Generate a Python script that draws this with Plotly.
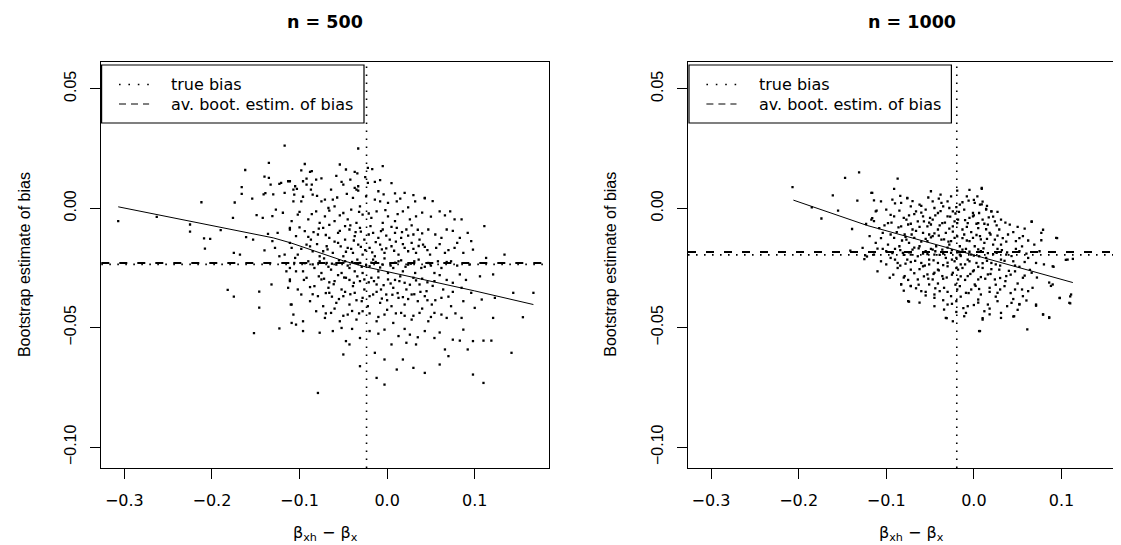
import plotly.graph_objects as go

W, H = 1121, 545

# ---------------- data ----------------
titles = ["n = 500", "n = 1000"]
xticks = [-0.3, -0.2, -0.1, 0.0, 0.1]
yticks = [-0.10, -0.05, 0.00, 0.05]
legend_labels = ["true bias", "av. boot. estim. of bias"]

true_bias = [-0.0235, -0.0195]       # dotted lines (vertical and horizontal)
boot_bias = [-0.0229, -0.0183]       # dashed horizontal line

# smooth fit lines
fit_left_x = [-0.307, -0.2, -0.13, -0.11, -0.09, -0.07, -0.05, -0.025, 0.04, 0.1, 0.167]
fit_left_y = [0.0006, -0.0074, -0.0124, -0.0145, -0.0170, -0.0196, -0.0220, -0.0245, -0.0296, -0.0346, -0.0403]
fit_right_x = [-0.206, -0.121, -0.05, 0.0, 0.05, 0.113]
fit_right_y = [0.0034, -0.0073, -0.0145, -0.0196, -0.0247, -0.0311]

# n = 500 : left tail / top of the cloud
left_outer = [
    (-0.307, -0.0054), (-0.263, -0.0036), (-0.225, -0.0068), (-0.225, -0.0098), (-0.212, 0.0025),
    (-0.209, -0.0126), (-0.202, -0.0128), (-0.208, -0.0169), (-0.190, -0.0092), (-0.176, -0.0040),
    (-0.174, 0.0024), (-0.175, -0.0187), (-0.168, -0.0194), (-0.182, -0.0342), (-0.175, -0.0370),
    (-0.166, 0.0060), (-0.166, 0.0088), (-0.162, 0.0160), (-0.161, -0.0121), (-0.153, -0.0131),
    (-0.152, -0.0523), (-0.154, 0.0040), (-0.149, -0.0029), (-0.142, -0.0040), (-0.146, -0.0349),
    (-0.146, -0.0416), (-0.139, 0.0063), (-0.140, 0.0132), (-0.135, 0.0127), (-0.135, 0.0190),
    (-0.133, 0.0099), (-0.140, -0.0176), (-0.132, -0.0319), (-0.123, -0.0503), (-0.127, -0.0006),
    (-0.121, 0.0106), (-0.113, 0.0113), (-0.109, -0.0480), (-0.104, -0.0487),
    (-0.136, -0.0107), (-0.131, -0.0138), (-0.125, -0.0103), (-0.128, -0.0166), (-0.123, -0.0201),
    (-0.117, -0.0194), (-0.111, -0.0145), (-0.105, -0.0208), (-0.104, -0.0264), (-0.111, -0.0298),
    (-0.113, -0.0333), (-0.110, -0.0403), (-0.115, -0.0264), (-0.131, -0.0033), (-0.119, -0.0019),
    (-0.117, 0.0064), (-0.107, 0.0029), (-0.111, -0.0082),
    (-0.117, 0.0262), (-0.033, 0.0250), (-0.123, 0.0102), (-0.141, 0.0058), (-0.130, 0.0058),
    (-0.105, 0.0092), (-0.103, 0.0081), (-0.092, 0.0124), (-0.086, 0.0099), (-0.086, 0.0155),
    (-0.037, 0.0085), (-0.033, 0.0074), (-0.022, 0.0169),
]

# n = 500 : main cloud
left_core = [
    (-0.094, 0.0185), (-0.098, 0.0158), (-0.088, 0.0152), (-0.054, 0.0183), (-0.047, 0.0162),
    (-0.037, 0.0152), (-0.034, 0.0146), (-0.017, 0.0164), (-0.005, 0.0176),
    (-0.111, 0.0113), (-0.096, 0.0113), (-0.092, 0.0099), (-0.081, 0.0120), (-0.107, 0.0078),
    (-0.087, 0.0078), (-0.064, 0.0078), (-0.052, 0.0110), (-0.050, 0.0099), (-0.033, 0.0092),
    (-0.035, 0.0078), (-0.022, 0.0106), (-0.014, 0.0110), (-0.010, 0.0071),
    (-0.106, 0.0057), (-0.098, 0.0029), (-0.085, 0.0057), (-0.075, 0.0029), (-0.071, 0.0036),
    (-0.062, 0.0036), (-0.067, 0.0001), (-0.060, 0.0008), (-0.039, 0.0043), (-0.031, 0.0008),
    (-0.014, 0.0036), (-0.008, 0.0029), (0.001, 0.0022), (0.011, 0.0029), (0.020, 0.0064),
    (0.032, 0.0029), (0.043, 0.0043), (0.024, 0.0004), (0.009, 0.0062), (0.043, 0.0041),
    (-0.109, -0.0054), (-0.102, -0.0027), (-0.090, -0.0047), (-0.081, -0.0013), (-0.077, -0.0061),
    (-0.071, -0.0034), (-0.060, -0.0054), (-0.050, -0.0020), (-0.045, -0.0047), (-0.041, -0.0006),
    (-0.035, -0.0061), (-0.028, -0.0027), (-0.018, -0.0040), (-0.012, -0.0013), (-0.005, -0.0061),
    (0.001, -0.0034), (0.009, -0.0054), (0.018, -0.0013), (0.026, -0.0047), (0.033, -0.0034),
    (0.060, -0.0013), (0.072, -0.0013), (0.077, -0.0047), (0.085, -0.0047), (0.111, -0.0075),
    (-0.111, -0.0089), (-0.104, -0.0117), (-0.094, -0.0096), (-0.087, -0.0131), (-0.079, -0.0110),
    (-0.073, -0.0082), (-0.066, -0.0124), (-0.056, -0.0103), (-0.048, -0.0131), (-0.043, -0.0089),
    (-0.037, -0.0117), (-0.031, -0.0082), (-0.026, -0.0131), (-0.016, -0.0103), (-0.010, -0.0124),
    (-0.005, -0.0089), (0.003, -0.0131), (0.009, -0.0103), (0.016, -0.0124), (0.022, -0.0089),
    (0.030, -0.0110), (0.037, -0.0131), (0.047, -0.0089), (0.062, -0.0124), (0.068, -0.0089),
    (0.083, -0.0124), (0.092, -0.0103), (0.096, -0.0138),
    (-0.109, -0.0166), (-0.102, -0.0194), (-0.092, -0.0152), (-0.085, -0.0180), (-0.077, -0.0201),
    (-0.069, -0.0159), (-0.062, -0.0187), (-0.056, -0.0145), (-0.050, -0.0201), (-0.045, -0.0166),
    (-0.039, -0.0187), (-0.033, -0.0152), (-0.028, -0.0194), (-0.020, -0.0166), (-0.014, -0.0201),
    (-0.008, -0.0152), (-0.003, -0.0187), (0.005, -0.0159), (0.013, -0.0194), (0.020, -0.0166),
    (0.028, -0.0145), (0.033, -0.0187), (0.041, -0.0152), (0.049, -0.0194), (0.056, -0.0166),
    (0.066, -0.0187), (0.077, -0.0166), (0.087, -0.0187), (0.098, -0.0173), (0.113, -0.0208),
    (0.134, -0.0194),
    (-0.111, -0.0250), (-0.106, -0.0229), (-0.096, -0.0264), (-0.090, -0.0222), (-0.083, -0.0250),
    (-0.075, -0.0271), (-0.069, -0.0229), (-0.064, -0.0257), (-0.058, -0.0236), (-0.052, -0.0271),
    (-0.048, -0.0222), (-0.043, -0.0250), (-0.037, -0.0264), (-0.031, -0.0229), (-0.028, -0.0271),
    (-0.020, -0.0243), (-0.016, -0.0215), (-0.010, -0.0264), (-0.005, -0.0236), (0.001, -0.0271),
    (0.007, -0.0250), (0.013, -0.0222), (0.018, -0.0264), (0.024, -0.0236), (0.032, -0.0271),
    (0.039, -0.0250), (0.047, -0.0229), (0.054, -0.0271), (0.062, -0.0250), (0.073, -0.0222),
    (0.083, -0.0277), (0.094, -0.0236), (0.106, -0.0285), (0.121, -0.0277), (0.167, -0.0354),
    (0.144, -0.0354),
    (-0.111, -0.0305), (-0.102, -0.0340), (-0.092, -0.0291), (-0.083, -0.0326), (-0.075, -0.0298),
    (-0.067, -0.0333), (-0.060, -0.0305), (-0.052, -0.0340), (-0.047, -0.0291), (-0.039, -0.0326),
    (-0.031, -0.0305), (-0.026, -0.0340), (-0.018, -0.0291), (-0.012, -0.0319), (-0.007, -0.0340),
    (0.001, -0.0298), (0.007, -0.0333), (0.014, -0.0305), (0.022, -0.0340), (0.030, -0.0291),
    (0.037, -0.0319), (0.045, -0.0347), (0.054, -0.0305), (0.064, -0.0340), (0.075, -0.0312),
    (0.085, -0.0333), (0.096, -0.0354), (0.108, -0.0382), (0.123, -0.0375),
    (-0.109, -0.0403), (-0.098, -0.0361), (-0.088, -0.0389), (-0.079, -0.0368), (-0.073, -0.0410),
    (-0.066, -0.0354), (-0.058, -0.0396), (-0.050, -0.0368), (-0.043, -0.0403), (-0.037, -0.0354),
    (-0.029, -0.0389), (-0.022, -0.0410), (-0.016, -0.0361), (-0.008, -0.0396), (-0.001, -0.0361),
    (0.005, -0.0410), (0.013, -0.0375), (0.020, -0.0403), (0.028, -0.0361), (0.035, -0.0389),
    (0.043, -0.0368), (0.051, -0.0403), (0.062, -0.0375), (0.073, -0.0410), (0.087, -0.0389),
    (0.100, -0.0417),
    (-0.107, -0.0445), (-0.096, -0.0473), (-0.081, -0.0431), (-0.071, -0.0459), (-0.064, -0.0438),
    (-0.054, -0.0473), (-0.045, -0.0445), (-0.035, -0.0466), (-0.028, -0.0431), (-0.012, -0.0473),
    (-0.003, -0.0445), (0.007, -0.0480), (0.016, -0.0438), (0.028, -0.0466), (0.037, -0.0438),
    (0.047, -0.0473), (0.054, -0.0438), (0.068, -0.0459), (0.085, -0.0459), (0.121, -0.0459),
    (0.155, -0.0456),
    (-0.096, -0.0514), (-0.077, -0.0521), (-0.062, -0.0514), (-0.052, -0.0501), (-0.031, -0.0543),
    (-0.020, -0.0514), (-0.003, -0.0508), (0.013, -0.0535), (0.026, -0.0529), (0.043, -0.0514),
    (0.054, -0.0543), (0.087, -0.0508), (0.075, -0.0550), (0.083, -0.0554),
    (-0.047, -0.0556), (-0.043, -0.0570), (-0.014, -0.0605), (0.005, -0.0570), (0.022, -0.0563),
    (0.033, -0.0570), (0.066, -0.0591), (0.070, -0.0619), (0.092, -0.0591), (0.098, -0.0556),
    (0.110, -0.0554), (0.119, -0.0554), (-0.050, -0.0612), (0.142, -0.0605),
    (-0.031, -0.0661), (-0.003, -0.0633), (0.018, -0.0633), (0.011, -0.0675), (0.030, -0.0668),
    (0.043, -0.0689), (0.060, -0.0654), (0.098, -0.0696), (0.110, -0.0731), (-0.012, -0.0710),
    (-0.003, -0.0738), (-0.079, -0.0773),
]

# n = 500 : extra points in the densest part of the cloud
left_dense = [
    (-0.078, -0.0085), (-0.066, -0.0070), (-0.054, -0.0095), (-0.042, -0.0072), (-0.030, -0.0098),
    (-0.019, -0.0075), (-0.007, -0.0096), (0.005, -0.0078), (0.017, -0.0100), (0.028, -0.0072),
    (0.040, -0.0105),
    (-0.080, -0.0150), (-0.068, -0.0172), (-0.060, -0.0140), (-0.047, -0.0182), (-0.038, -0.0135),
    (-0.025, -0.0175), (-0.013, -0.0142), (-0.001, -0.0168), (0.010, -0.0140), (0.024, -0.0180),
    (0.036, -0.0158), (0.046, -0.0175),
    (-0.072, -0.0210), (-0.063, -0.0232), (-0.055, -0.0218), (-0.045, -0.0240), (-0.034, -0.0215),
    (-0.024, -0.0238), (-0.013, -0.0225), (-0.003, -0.0210), (0.004, -0.0240), (0.016, -0.0218),
    (0.027, -0.0232), (0.036, -0.0215), (0.050, -0.0240),
    (-0.078, -0.0285), (-0.066, -0.0310), (-0.056, -0.0280), (-0.043, -0.0300), (-0.034, -0.0285),
    (-0.021, -0.0310), (-0.010, -0.0290), (0.004, -0.0315), (0.015, -0.0285), (0.026, -0.0320),
    (0.040, -0.0295), (0.052, -0.0325),
    (-0.070, -0.0355), (-0.055, -0.0380), (-0.042, -0.0360), (-0.028, -0.0375), (-0.012, -0.0350),
    (0.000, -0.0385), (0.012, -0.0355), (0.024, -0.0380), (0.038, -0.0350), (0.055, -0.0385),
    (-0.060, -0.0420), (-0.040, -0.0430), (-0.020, -0.0440), (0.000, -0.0425), (0.020, -0.0450),
    (0.040, -0.0420), (0.062, -0.0445),
    (-0.090, -0.0120), (-0.094, -0.0230), (-0.088, -0.0330), (0.060, -0.0280), (0.068, -0.0225),
    (0.075, -0.0350), (0.080, -0.0145),
]

left_dense2 = [
    (-0.075, 0.0125), (-0.058, 0.0135), (-0.042, 0.0120), (-0.025, 0.0130), (-0.008, 0.0118),
    (0.005, 0.0105),
    (-0.096, 0.0048), (-0.080, 0.0052), (-0.057, 0.0045), (-0.046, 0.0060), (-0.024, 0.0050),
    (-0.004, 0.0058), (0.015, 0.0040), (0.030, 0.0055), (0.052, 0.0030),
    (-0.100, -0.0015), (-0.086, -0.0025), (-0.066, -0.0010), (-0.054, -0.0030), (-0.032, -0.0015),
    (-0.021, -0.0022), (-0.002, -0.0008), (0.012, -0.0025), (0.040, -0.0018), (0.050, -0.0035),
    (0.066, -0.0030),
    (-0.100, -0.0080), (-0.084, -0.0100), (-0.070, -0.0112), (-0.048, -0.0075), (-0.036, -0.0100),
    (-0.021, -0.0110), (-0.001, -0.0115), (0.011, -0.0082), (0.024, -0.0115), (0.035, -0.0090),
    (0.055, -0.0110), (0.075, -0.0095),
    (-0.098, -0.0170), (-0.088, -0.0160), (-0.073, -0.0180), (-0.053, -0.0160), (-0.041, -0.0170),
    (-0.030, -0.0162), (-0.017, -0.0185), (-0.006, -0.0172), (0.008, -0.0178), (0.018, -0.0150),
    (0.030, -0.0170), (0.043, -0.0162), (0.060, -0.0150), (0.070, -0.0175),
    (-0.085, -0.0235), (-0.077, -0.0222), (-0.067, -0.0245), (-0.050, -0.0228), (-0.040, -0.0225),
    (-0.029, -0.0245), (-0.018, -0.0228), (-0.008, -0.0248), (0.009, -0.0228), (0.021, -0.0245),
    (0.031, -0.0222), (0.043, -0.0245), (0.058, -0.0222), (0.080, -0.0240),
    (-0.095, -0.0300), (-0.072, -0.0295), (-0.061, -0.0318), (-0.049, -0.0290), (-0.038, -0.0312),
    (-0.026, -0.0298), (-0.015, -0.0305), (-0.004, -0.0322), (0.009, -0.0300), (0.020, -0.0312),
    (0.033, -0.0302), (0.046, -0.0310), (0.068, -0.0300), (0.090, -0.0300),
    (-0.085, -0.0360), (-0.063, -0.0370), (-0.048, -0.0350), (-0.035, -0.0385), (-0.020, -0.0368),
    (-0.006, -0.0378), (0.006, -0.0362), (0.018, -0.0372), (0.031, -0.0360), (0.046, -0.0385),
    (0.070, -0.0370),
    (-0.070, -0.0440), (-0.050, -0.0450), (-0.032, -0.0440), (-0.010, -0.0455), (0.010, -0.0440),
    (0.030, -0.0450), (0.050, -0.0455), (0.078, -0.0440),
    (-0.040, -0.0505), (-0.010, -0.0525), (0.020, -0.0505), (0.035, -0.0540), (0.060, -0.0520),
]

# n = 1000 : tails
right_outer = [
    (-0.207, 0.0088), (-0.185, 0.0004), (-0.174, -0.0043), (-0.161, 0.0054), (-0.155, -0.0010),
    (-0.147, 0.0127), (-0.139, -0.0087), (-0.133, 0.0032), (-0.131, 0.0150), (-0.116, 0.0064),
    (-0.114, 0.0033), (-0.116, -0.0041), (-0.114, -0.0054), (-0.123, -0.0066), (-0.141, -0.0177),
    (-0.127, -0.0166), (-0.124, -0.0197), (-0.122, -0.0202), (-0.110, -0.0169), (-0.111, -0.0010),
    (-0.125, -0.0213), (-0.087, 0.0124), (-0.091, 0.0081), (-0.084, 0.0052), (-0.076, 0.0041),
    (-0.074, -0.0391), (-0.083, -0.0318), (-0.072, -0.0325), (-0.031, -0.0460), (-0.020, -0.0434),
    (0.006, -0.0514), (0.009, 0.0081), (-0.005, 0.0077), (0.009, 0.0016), (0.014, -0.0003),
    (0.020, -0.0013), (0.010, -0.0460), (0.018, -0.0444), (0.045, -0.0453), (0.052, -0.0401),
    (0.061, -0.0507), (0.066, -0.0057), (0.071, -0.0408), (0.079, -0.0090), (0.079, -0.0444),
    (0.086, -0.0311), (0.088, -0.0325), (0.086, -0.0456), (0.077, -0.0134), (0.091, -0.0245),
    (0.095, -0.0125), (0.098, -0.0376), (0.105, -0.0216), (0.110, -0.0369), (0.110, -0.0398),
    (0.113, -0.0212),
    (-0.049, 0.0071), (-0.038, 0.0057), (-0.019, 0.0074), (0.009, 0.0085), (-0.008, 0.0050),
    (-0.006, 0.0032), (-0.117, 0.0064),
]

# n = 1000 : main cloud
right_core = [
    (-0.112, -0.0013), (-0.100, -0.0006), (-0.093, 0.0036), (-0.083, 0.0022), (-0.076, 0.0043),
    (-0.066, -0.0013), (-0.062, 0.0015), (-0.055, -0.0006), (-0.047, 0.0029), (-0.041, -0.0020),
    (-0.035, 0.0008), (-0.030, 0.0029), (-0.024, -0.0013), (-0.016, 0.0015), (-0.011, -0.0006),
    (-0.001, -0.0020), (0.007, 0.0015), (0.014, -0.0006), (0.020, -0.0013), (-0.106, 0.0029),
    (-0.072, 0.0008), (-0.045, 0.0001), (-0.028, 0.0001), (0.001, 0.0022),
    (-0.117, -0.0048), (-0.108, -0.0083), (-0.098, -0.0062), (-0.091, -0.0034), (-0.083, -0.0076),
    (-0.077, -0.0048), (-0.070, -0.0089), (-0.064, -0.0055), (-0.058, -0.0034), (-0.053, -0.0076),
    (-0.047, -0.0048), (-0.041, -0.0089), (-0.036, -0.0062), (-0.030, -0.0034), (-0.024, -0.0076),
    (-0.018, -0.0048), (-0.013, -0.0089), (-0.007, -0.0062), (-0.001, -0.0034), (0.005, -0.0083),
    (0.010, -0.0048), (0.016, -0.0069), (0.024, -0.0055), (0.031, -0.0048), (0.029, -0.0089),
    (0.041, -0.0069), (0.066, -0.0055), (0.094, -0.0124), (0.058, -0.0085), (-0.075, -0.0068),
    (-0.049, -0.0068), (-0.022, -0.0055), (0.005, -0.0062),
    (-0.119, -0.0117), (-0.112, -0.0145), (-0.104, -0.0103), (-0.098, -0.0152), (-0.091, -0.0124),
    (-0.085, -0.0159), (-0.079, -0.0110), (-0.074, -0.0145), (-0.068, -0.0124), (-0.062, -0.0159),
    (-0.058, -0.0103), (-0.053, -0.0138), (-0.047, -0.0117), (-0.043, -0.0159), (-0.037, -0.0131),
    (-0.032, -0.0103), (-0.028, -0.0152), (-0.022, -0.0124), (-0.016, -0.0159), (-0.011, -0.0110),
    (-0.005, -0.0138), (0.001, -0.0159), (0.007, -0.0117), (0.012, -0.0145), (0.018, -0.0103),
    (0.024, -0.0131), (0.031, -0.0152), (0.039, -0.0110), (0.048, -0.0138), (0.056, -0.0117),
    (0.069, -0.0152), (0.077, -0.0103), (-0.077, -0.0131), (-0.051, -0.0110), (-0.026, -0.0138),
    (-0.001, -0.0124), (0.022, -0.0152),
    (-0.114, -0.0194), (-0.106, -0.0222), (-0.100, -0.0180), (-0.095, -0.0208), (-0.087, -0.0229),
    (-0.081, -0.0187), (-0.076, -0.0215), (-0.070, -0.0173), (-0.064, -0.0201), (-0.060, -0.0229),
    (-0.055, -0.0180), (-0.051, -0.0215), (-0.045, -0.0194), (-0.041, -0.0229), (-0.036, -0.0173),
    (-0.032, -0.0208), (-0.026, -0.0187), (-0.022, -0.0222), (-0.016, -0.0194), (-0.013, -0.0173),
    (-0.007, -0.0215), (-0.003, -0.0194), (0.003, -0.0229), (0.008, -0.0180), (0.014, -0.0208),
    (0.020, -0.0229), (0.026, -0.0187), (0.031, -0.0215), (0.037, -0.0194), (0.045, -0.0222),
    (0.052, -0.0180), (0.062, -0.0208), (0.071, -0.0229), (0.090, -0.0243), (0.107, -0.0215),
    (-0.072, -0.0194), (-0.047, -0.0173), (-0.020, -0.0208), (0.006, -0.0201),
    (-0.110, -0.0264), (-0.096, -0.0291), (-0.087, -0.0250), (-0.079, -0.0284), (-0.072, -0.0257),
    (-0.064, -0.0298), (-0.058, -0.0243), (-0.053, -0.0277), (-0.047, -0.0298), (-0.041, -0.0257),
    (-0.036, -0.0284), (-0.030, -0.0243), (-0.024, -0.0270), (-0.018, -0.0298), (-0.013, -0.0250),
    (-0.007, -0.0284), (-0.001, -0.0264), (0.005, -0.0298), (0.010, -0.0250), (0.016, -0.0277),
    (0.024, -0.0298), (0.029, -0.0257), (0.037, -0.0284), (0.047, -0.0264), (0.056, -0.0291),
    (0.066, -0.0270), (0.090, -0.0319), (-0.045, -0.0270), (-0.018, -0.0257),
    (-0.083, -0.0319), (-0.072, -0.0326), (-0.060, -0.0347), (-0.051, -0.0319), (-0.045, -0.0361),
    (-0.034, -0.0333), (-0.026, -0.0368), (-0.016, -0.0326), (-0.009, -0.0354), (0.001, -0.0319),
    (0.008, -0.0361), (0.018, -0.0333), (0.027, -0.0354), (0.035, -0.0326), (0.047, -0.0340),
    (0.056, -0.0368), (0.062, -0.0347), (0.067, -0.0333), (-0.039, -0.0347), (-0.003, -0.0340),
    (-0.075, -0.0389), (-0.045, -0.0375), (-0.030, -0.0403), (-0.020, -0.0389), (-0.007, -0.0410),
    (0.005, -0.0382), (0.016, -0.0403), (0.027, -0.0389), (0.043, -0.0396), (0.052, -0.0403),
    (0.060, -0.0386), (-0.034, -0.0424), (-0.009, -0.0438), (0.012, -0.0431), (0.031, -0.0438),
    (0.071, -0.0403), (0.111, -0.0361), (0.109, -0.0396), (0.098, -0.0375),
    (-0.032, -0.0459), (-0.024, -0.0473), (-0.011, -0.0452), (0.007, -0.0514), (0.010, -0.0466),
    (0.079, -0.0445), (0.086, -0.0459), (0.046, -0.0452), (0.031, -0.0459),
]

# n = 1000 : extra points in the densest part of the cloud
right_dense = [
    (-0.080, -0.0040), (-0.068, -0.0025), (-0.057, -0.0055), (-0.044, -0.0030), (-0.033, -0.0060),
    (-0.021, -0.0022), (-0.010, -0.0050), (0.000, -0.0030), (0.012, -0.0065), (0.022, -0.0035),
    (-0.088, -0.0100), (-0.078, -0.0120), (-0.066, -0.0095), (-0.055, -0.0128), (-0.045, -0.0105),
    (-0.034, -0.0130), (-0.024, -0.0098), (-0.013, -0.0125), (-0.003, -0.0100), (0.008, -0.0130),
    (0.019, -0.0110), (0.033, -0.0125), (0.045, -0.0100),
    (-0.090, -0.0170), (-0.080, -0.0195), (-0.068, -0.0165), (-0.058, -0.0190), (-0.049, -0.0170),
    (-0.039, -0.0195), (-0.030, -0.0165), (-0.019, -0.0185), (-0.009, -0.0170), (0.000, -0.0198),
    (0.011, -0.0168), (0.022, -0.0192), (0.032, -0.0175), (0.043, -0.0200), (0.055, -0.0160),
    (-0.084, -0.0240), (-0.072, -0.0225), (-0.062, -0.0255), (-0.051, -0.0235), (-0.040, -0.0260),
    (-0.030, -0.0228), (-0.020, -0.0250), (-0.010, -0.0235), (0.000, -0.0260), (0.010, -0.0230),
    (0.020, -0.0255), (0.030, -0.0240), (0.040, -0.0262), (0.052, -0.0245), (0.064, -0.0258),
    (-0.075, -0.0300), (-0.063, -0.0320), (-0.052, -0.0295), (-0.041, -0.0315), (-0.031, -0.0290),
    (-0.021, -0.0320), (-0.010, -0.0300), (0.002, -0.0325), (0.013, -0.0295), (0.025, -0.0320),
    (0.036, -0.0305), (0.050, -0.0315),
    (-0.055, -0.0365), (-0.035, -0.0385), (-0.015, -0.0370), (0.005, -0.0395), (0.025, -0.0370),
    (0.045, -0.0380),
    (-0.060, 0.0010), (-0.040, 0.0040), (-0.020, 0.0005), (0.000, 0.0035), (0.015, 0.0010),
]

right_dense2 = [
    (-0.090, 0.0020), (-0.070, 0.0030), (-0.052, 0.0045), (-0.037, 0.0022), (-0.026, 0.0050),
    (-0.013, 0.0025), (0.004, 0.0050), (0.010, 0.0028),
    (-0.095, -0.0028), (-0.085, -0.0010), (-0.074, -0.0030), (-0.060, -0.0018), (-0.050, -0.0040),
    (-0.038, -0.0012), (-0.027, -0.0035), (-0.017, -0.0015), (-0.005, -0.0040), (0.006, -0.0020),
    (0.017, -0.0038), (0.027, -0.0015),
    (-0.102, -0.0072), (-0.094, -0.0060), (-0.086, -0.0080), (-0.072, -0.0065), (-0.062, -0.0078),
    (-0.051, -0.0060), (-0.039, -0.0072), (-0.028, -0.0085), (-0.019, -0.0062), (-0.008, -0.0078),
    (0.003, -0.0065), (0.014, -0.0088), (0.026, -0.0072), (0.036, -0.0060), (0.050, -0.0078),
    (-0.106, -0.0125), (-0.095, -0.0110), (-0.082, -0.0135), (-0.071, -0.0110), (-0.060, -0.0140),
    (-0.049, -0.0122), (-0.040, -0.0115), (-0.029, -0.0140), (-0.019, -0.0118), (-0.008, -0.0135),
    (0.003, -0.0112), (0.015, -0.0128), (0.027, -0.0115), (0.037, -0.0140), (0.052, -0.0125),
    (0.062, -0.0135),
    (-0.104, -0.0170), (-0.093, -0.0188), (-0.084, -0.0175), (-0.074, -0.0185), (-0.063, -0.0168),
    (-0.053, -0.0192), (-0.044, -0.0180), (-0.035, -0.0190), (-0.025, -0.0175), (-0.015, -0.0200),
    (-0.005, -0.0182), (0.005, -0.0172), (0.016, -0.0188), (0.027, -0.0170), (0.038, -0.0185),
    (0.048, -0.0170), (0.060, -0.0190), (0.075, -0.0180),
    (-0.100, -0.0235), (-0.090, -0.0215), (-0.078, -0.0232), (-0.067, -0.0220), (-0.056, -0.0240),
    (-0.046, -0.0218), (-0.035, -0.0238), (-0.025, -0.0215), (-0.015, -0.0235), (-0.005, -0.0222),
    (0.005, -0.0245), (0.015, -0.0220), (0.025, -0.0235), (0.035, -0.0220), (0.047, -0.0240),
    (0.058, -0.0225), (0.080, -0.0235),
    (-0.092, -0.0278), (-0.080, -0.0290), (-0.068, -0.0272), (-0.057, -0.0285), (-0.046, -0.0275),
    (-0.035, -0.0295), (-0.025, -0.0278), (-0.015, -0.0285), (-0.004, -0.0275), (0.008, -0.0288),
    (0.019, -0.0275), (0.030, -0.0292), (0.042, -0.0278), (0.058, -0.0282), (0.072, -0.0290),
    (-0.080, -0.0345), (-0.066, -0.0335), (-0.055, -0.0350), (-0.044, -0.0335), (-0.030, -0.0350),
    (-0.019, -0.0340), (-0.006, -0.0355), (0.006, -0.0338), (0.018, -0.0350), (0.030, -0.0340),
    (0.042, -0.0355), (0.055, -0.0340),
    (-0.062, -0.0395), (-0.045, -0.0410), (-0.025, -0.0400), (-0.012, -0.0418), (0.000, -0.0405),
    (0.018, -0.0420), (0.038, -0.0410), (0.050, -0.0425),
]

# ---------------- geometry (pixels) ----------------
PLOT_L = [93.3, 680.0]
PLOT_R = [541.0, 1121.0]
PLOT_T, PLOT_B = 53.5, 460.0
X_RANGES = [[-0.3263, 0.1848], [-0.3263, 0.1771]]
Y_RANGE = [-0.1087, 0.0614]

def px(x):
    return x / W

def py(y):
    return 1 - y / H

HFONT = "DejaVu Sans"
VFONT = "Liberation Sans, Arial, sans-serif"

fig = go.Figure()

panels = [
    (left_outer + left_core + left_dense + left_dense2, fit_left_x, fit_left_y),
    (right_outer + right_core + right_dense + right_dense2, fit_right_x, fit_right_y),
]

shapes = []
annotations = []

for i, (pts, fx, fy) in enumerate(panels):
    xa = "x" if i == 0 else "x2"
    ya = "y" if i == 0 else "y2"
    fig.add_trace(go.Scatter(
        x=[p[0] for p in pts], y=[p[1] for p in pts], mode="markers",
        marker=dict(symbol="square", size=2.3, color="black", line=dict(width=0)),
        xaxis=xa, yaxis=ya, showlegend=False, hoverinfo="skip"))
    fig.add_trace(go.Scatter(
        x=fx, y=fy, mode="lines", line=dict(color="black", width=1),
        xaxis=xa, yaxis=ya, showlegend=False, hoverinfo="skip"))

    xd = xa + " domain"
    yd = ya + " domain"
    # vertical dotted (true bias)
    shapes.append(dict(type="line", xref=xa, yref=yd, x0=true_bias[i], x1=true_bias[i], y0=0, y1=1,
                       line=dict(color="black", width=1.6, dash="1.6px,6.4px")))
    # horizontal dotted (true bias)
    shapes.append(dict(type="line", xref=xd, yref=ya, x0=0, x1=1, y0=true_bias[i], y1=true_bias[i],
                       line=dict(color="black", width=1.6, dash="1.6px,6.4px")))
    # horizontal dashed (bootstrap estimate)
    shapes.append(dict(type="line", xref=xd, yref=ya, x0=0, x1=1, y0=boot_bias[i], y1=boot_bias[i],
                       line=dict(color="black", width=2, dash="8px,10px")))

    # legend box
    lx0 = PLOT_L[i] + (0.3 if i == 0 else 1.0)
    shapes.append(dict(type="rect", xref="paper", yref="paper",
                       x0=px(lx0), x1=px(lx0 + 262.4), y0=py(57.0), y1=py(115.0),
                       line=dict(color="black", width=1.2), fillcolor="white", layer="above"))
    shapes.append(dict(type="line", xref="paper", yref="paper",
                       x0=px(lx0 + 17.4), x1=px(lx0 + 47.5), y0=py(76.5), y1=py(76.5),
                       line=dict(color="black", width=1.6, dash="1.6px,7.8px"), layer="above"))
    shapes.append(dict(type="line", xref="paper", yref="paper",
                       x0=px(lx0 + 17.4), x1=px(lx0 + 47.5), y0=py(96.0), y1=py(96.0),
                       line=dict(color="black", width=1, dash="7px,5px"), layer="above"))
    for k, lab in enumerate(legend_labels):
        annotations.append(dict(text=lab, xref="paper", yref="paper",
                                x=px(lx0 + 67.5), y=py(76.5 if k == 0 else 96.0),
                                xanchor="left", yanchor="middle", showarrow=False,
                                font=dict(family=HFONT, size=16, color="black")))

    cx = (PLOT_L[i] + (PLOT_L[i] + 447.7)) / 2
    annotations.append(dict(text="<b>%s</b>" % titles[i], xref="paper", yref="paper",
                            x=px(cx), y=py(14), xanchor="center", yanchor="middle",
                            showarrow=False, font=dict(family=HFONT, size=17.5, color="black")))
    annotations.append(dict(text="β<sub>xh</sub> − β<sub>x</sub>", xref="paper", yref="paper",
                            x=px(cx), y=py(525), xanchor="center", yanchor="middle",
                            showarrow=False, font=dict(family=HFONT, size=16, color="black")))
    annotations.append(dict(text="Bootstrap estimate of bias", xref="paper", yref="paper",
                            x=px(PLOT_L[i] - 77), y=py((PLOT_T + PLOT_B) / 2), textangle=-90,
                            xanchor="center", yanchor="middle",
                            showarrow=False, font=dict(family=VFONT, size=16, color="black")))

def xaxis(i):
    return dict(domain=[px(PLOT_L[i]), px(PLOT_R[i])], range=X_RANGES[i], anchor="y" if i == 0 else "y2",
                showline=True, linecolor="black", linewidth=1.2, mirror=True,
                ticks="outside", ticklen=10, tickwidth=1, tickcolor="black",
                tickvals=xticks, tickformat=".1f", ticklabelstandoff=8,
                tickfont=dict(family=HFONT, size=16, color="black"),
                showgrid=False, zeroline=False, fixedrange=True)

def yaxis(i):
    return dict(domain=[py(PLOT_B), py(PLOT_T)], range=Y_RANGE, anchor="x" if i == 0 else "x2",
                showline=True, linecolor="black", linewidth=1.2, mirror=(i == 0),
                ticks="outside", ticklen=10, tickwidth=1, tickcolor="black",
                tickvals=yticks, tickformat=".2f", tickangle=-90, ticklabelstandoff=8,
                tickfont=dict(family=VFONT, size=16, color="black"),
                showgrid=False, zeroline=False, fixedrange=True)

fig.update_layout(
    width=W, height=H,
    margin=dict(l=0, r=0, t=0, b=0, pad=0),
    paper_bgcolor="white", plot_bgcolor="white",
    xaxis=xaxis(0), yaxis=yaxis(0), xaxis2=xaxis(1), yaxis2=yaxis(1),
    shapes=shapes, annotations=annotations, showlegend=False,
)

fig.write_html("out.html")
